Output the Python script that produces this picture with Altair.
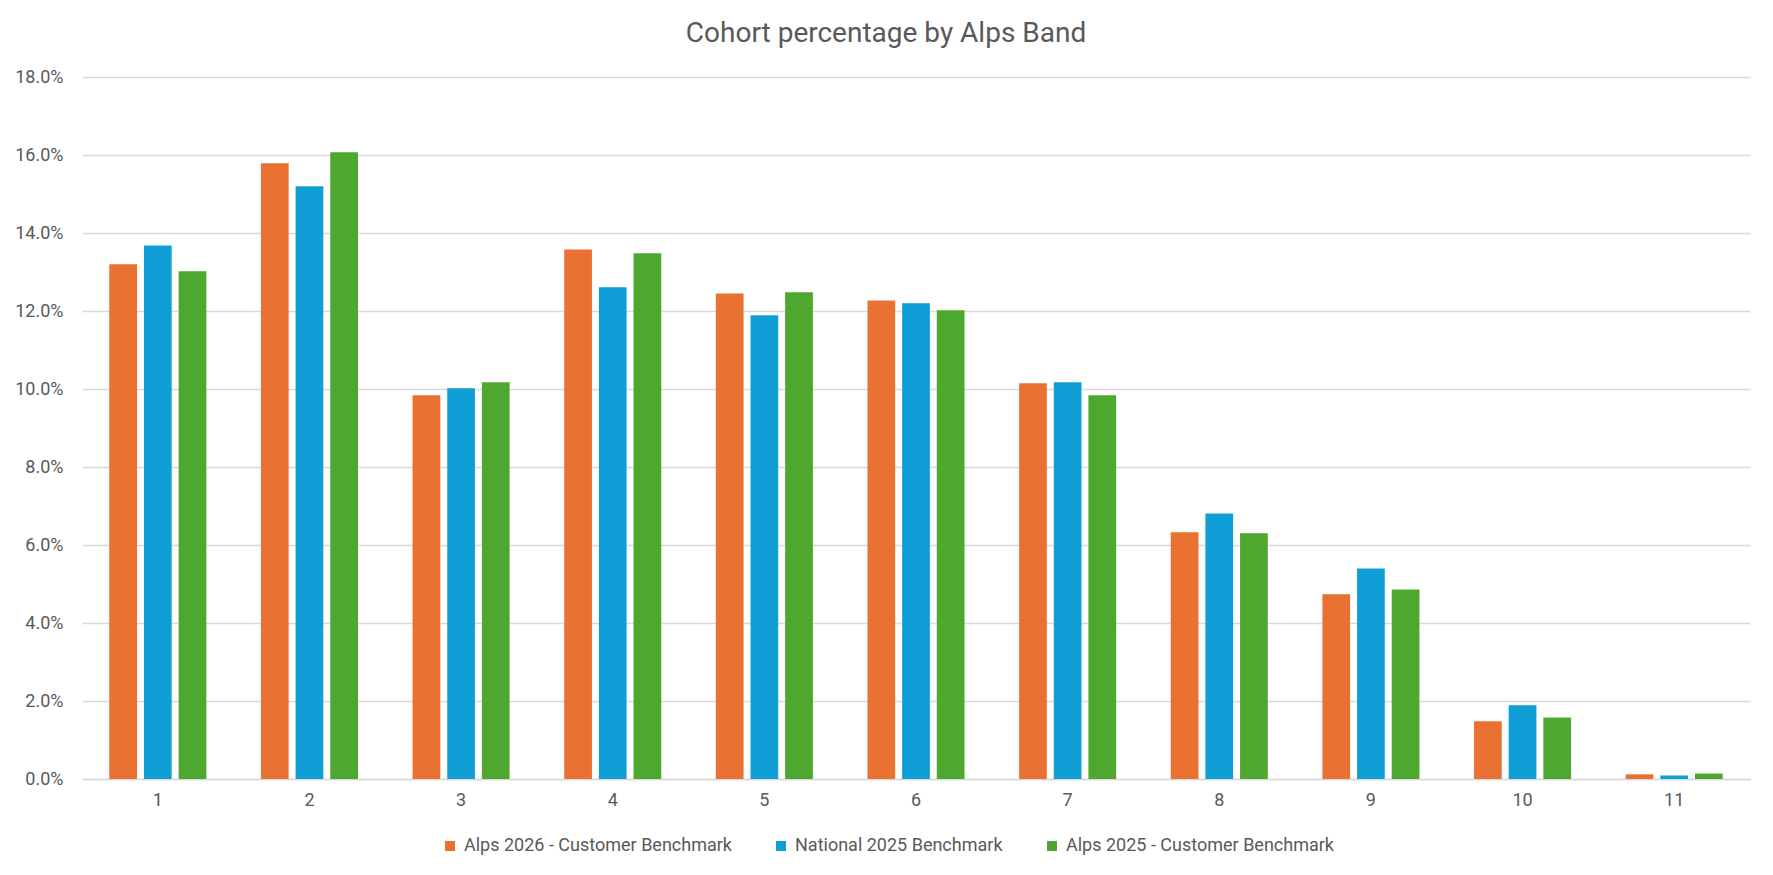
import altair as alt
import pandas as pd

bands = ["1", "2", "3", "4", "5", "6", "7", "8", "9", "10", "11"]
series_names = ["Alps 2026 - Customer Benchmark", "National 2025 Benchmark", "Alps 2025 - Customer Benchmark"]
series_colors = ["#E97132", "#0F9ED5", "#4EA72E"]
alps_2026 = [13.20, 15.79, 9.84, 13.58, 12.45, 12.27, 10.15, 6.33, 4.74, 1.48, 0.12]
national_2025 = [13.68, 15.20, 10.02, 12.61, 11.89, 12.20, 10.17, 6.81, 5.40, 1.89, 0.09]
alps_2025 = [13.02, 16.07, 10.17, 13.48, 12.48, 12.02, 9.84, 6.30, 4.86, 1.58, 0.14]
y_ticks = [0, 0.02, 0.04, 0.06, 0.08, 0.10, 0.12, 0.14, 0.16, 0.18]

rows = []
for name, vals in zip(series_names, [alps_2026, national_2025, alps_2025]):
    for b, v in zip(bands, vals):
        rows.append({"band": b, "series": name, "value": v / 100.0})
df = pd.DataFrame(rows)

FONT = "Roboto"
GRAY = "#595959"

chart = (
    alt.Chart(df)
    .mark_bar()
    .encode(
        x=alt.X(
            "band:N",
            sort=bands,
            title=None,
            scale=alt.Scale(paddingInner=0.36, paddingOuter=0.18),
            axis=alt.Axis(
                labelAngle=0,
                ticks=False,
                domain=True,
                domainColor="#D9D9D9",
                domainWidth=1.5,
                labelPadding=12,
                labelFontSize=18,
                labelColor=GRAY,
                labelFont=FONT,
                grid=False,
            ),
        ),
        xOffset=alt.XOffset(
            "series:N",
            sort=series_names,
            scale=alt.Scale(paddingInner=0.2, paddingOuter=0),
        ),
        y=alt.Y(
            "value:Q",
            title=None,
            scale=alt.Scale(domain=[0, 0.18], nice=False),
            axis=alt.Axis(
                values=y_ticks,
                format=".1%",
                ticks=False,
                domain=False,
                gridColor="#D9D9D9",
                gridWidth=1.5,
                labelPadding=19,
                labelFontSize=18,
                labelColor=GRAY,
                labelFont=FONT,
            ),
        ),
        color=alt.Color(
            "series:N",
            sort=series_names,
            scale=alt.Scale(domain=series_names, range=series_colors),
            legend=alt.Legend(
                title=None,
                orient="none",
                direction="horizontal",
                legendX=359,
                legendY=760,
                symbolType="square",
                symbolSize=100,
                symbolStrokeWidth=0,
                labelFontSize=18,
                labelColor=GRAY,
                labelFont=FONT,
                labelOffset=5,
                labelLimit=0,
                columnPadding=40,
            ),
        ),
    )
    .properties(
        width=1668,
        height=702,
        title=alt.TitleParams(
            "Cohort percentage by Alps Band",
            fontSize=28,
            fontWeight="normal",
            color=GRAY,
            font=FONT,
            anchor="middle",
            offset=20,
            dx=-30,
        ),
        autosize=alt.AutoSizeParams(type="none"),
        padding={"left": 74, "top": 69, "right": 15, "bottom": 88},
    )
    .configure_view(stroke=None)
)

chart.save("out.html", embed_options={"renderer": "svg", "actions": False})
